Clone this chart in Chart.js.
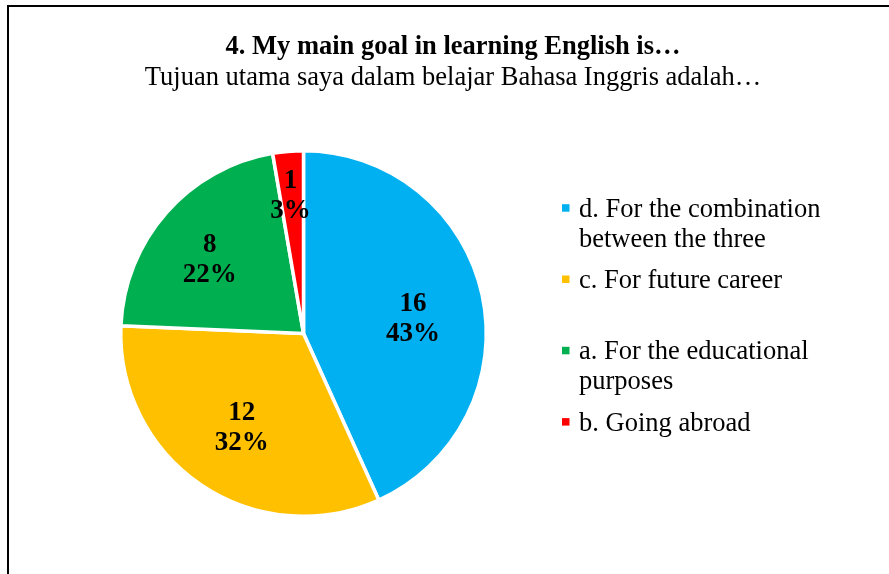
<!DOCTYPE html>
<html>
<head>
<meta charset="utf-8">
<script src="https://cdn.jsdelivr.net/npm/chart.js@4/dist/chart.umd.min.js"></script>
<style>
  html, body { margin: 0; padding: 0; background: #fff; overflow: hidden; }
  #frame {
    position: absolute; left: 7px; top: 5px;
    width: 900px; height: 600px;
    border: 2px solid #000;
    background: #fff;
  }
  #wrap { position: absolute; left: 0; top: 0; width: 888px; height: 580px; }
</style>
</head>
<body>
<div id="frame"><div id="wrap"><canvas id="myChart"></canvas></div></div>
<script>
// survey answers, clockwise from 12 o'clock
const titleText = '4. My main goal in learning English is\u2026';
const subtitleText = 'Tujuan utama saya dalam belajar Bahasa Inggris adalah\u2026';
const answers = [
    ['d. For the combination', 'between the three'],
    'c. For future career',
    ['a. For the educational', 'purposes'],
    'b. Going abroad'
];
const counts = [16, 12, 8, 1];
const sliceColors = ['#00B0F0', '#FFC000', '#00B050', '#FF0000'];

const serif = '"Liberation Serif", "Times New Roman", serif';

// value + percent in each slice
const sliceLabels = {
    id: 'sliceLabels',
    afterDatasetsDraw(chart, args, opts) {
        const ctx = chart.ctx;
        const meta = chart.getDatasetMeta(0);
        const data = chart.data.datasets[0].data;
        const total = data.reduce((a, b) => a + b, 0);
        ctx.save();
        ctx.font = 'bold 27px ' + serif;
        ctx.fillStyle = '#000';
        ctx.textAlign = 'center';
        ctx.textBaseline = 'middle';
        meta.data.forEach((arc, i) => {
            const p = arc.getProps(['x', 'y', 'startAngle', 'endAngle', 'outerRadius']);
            const mid = (p.startAngle + p.endAngle) / 2 + opts.shift[i] * Math.PI / 180;
            const r = p.outerRadius * opts.radius[i];
            const x = p.x + Math.cos(mid) * r;
            const y = p.y + Math.sin(mid) * r + 2;
            const pct = Math.round(data[i] / total * 100) + '%';
            ctx.fillText(String(data[i]), x, y - 15);
            ctx.fillText(pct, x, y + 15);
        });
        ctx.restore();
    }
};

// two-line title and the legend on the right
const headerAndLegend = {
    id: 'headerAndLegend',
    afterDraw(chart) {
        const ctx = chart.ctx;
        const cx = chart.width / 2;
        ctx.save();
        ctx.fillStyle = '#000';
        ctx.textAlign = 'center';
        ctx.textBaseline = 'alphabetic';
        ctx.font = 'bold 26.5px ' + serif;
        ctx.fillText(titleText, cx, 46.5);
        ctx.font = '26.5px ' + serif;
        ctx.fillText(subtitleText, cx, 77.5);

        ctx.textAlign = 'left';
        chart.data.labels.forEach((label, i) => {
            const lines = Array.isArray(label) ? label : [label];
            const base = 209.7 + i * 71.3;
            ctx.fillStyle = sliceColors[i];
            ctx.fillRect(553, base - 12.5, 7.5, 7.5);
            ctx.fillStyle = '#000';
            lines.forEach((ln, j) => ctx.fillText(ln, 570, base + j * 30));
        });
        ctx.restore();
    }
};

const ctx = document.getElementById('myChart').getContext('2d');
new Chart(ctx, {
    type: 'pie',
    data: {
        labels: answers,
        datasets: [{
            data: counts,
            backgroundColor: sliceColors,
            borderColor: '#fff',
            borderWidth: 3.5
        }]
    },
    options: {
        responsive: true,
        maintainAspectRatio: false,
        animation: false,
        layout: { padding: { left: 110, top: 142, right: 409, bottom: 69 } },
        plugins: {
            legend: { display: false },
            title: { display: false },
            tooltip: { enabled: false },
            sliceLabels: {
                radius: [0.606, 0.61, 0.66, 0.766],
                shift: [3.8, -0.4, -2.4, -0.5]
            }
        }
    },
    plugins: [sliceLabels, headerAndLegend]
});
</script>
</body>
</html>
